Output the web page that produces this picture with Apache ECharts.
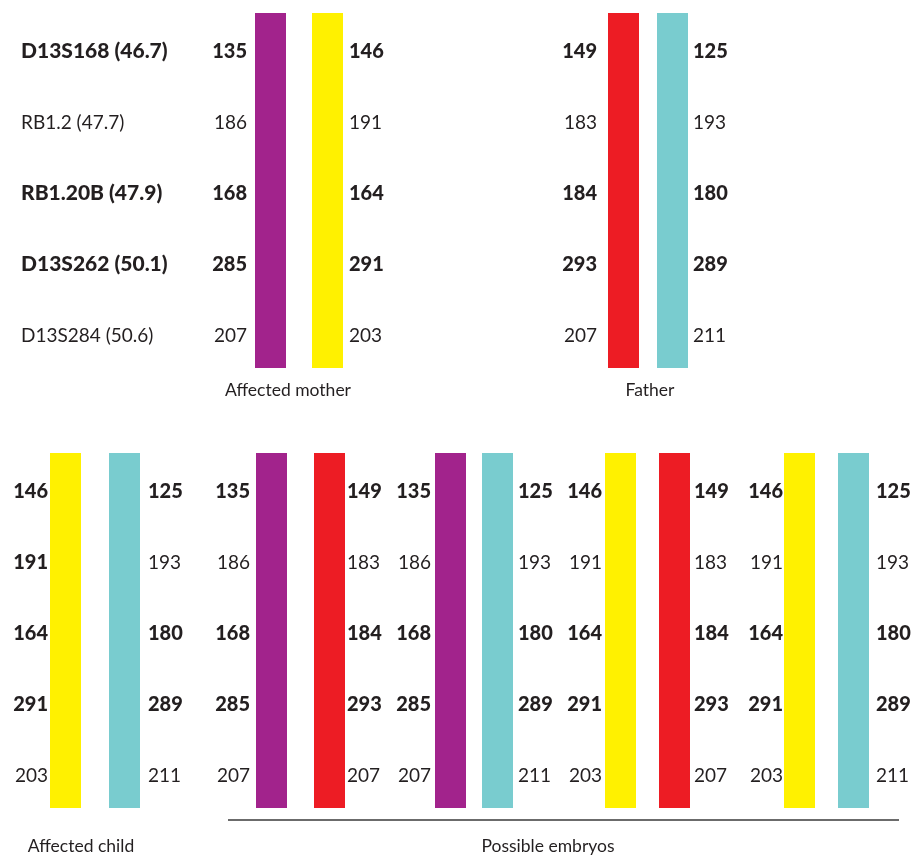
<!DOCTYPE html>
<html><head><meta charset="utf-8">
<script src="https://cdn.jsdelivr.net/npm/echarts@6/dist/echarts.min.js"></script>
<style>html,body{margin:0;padding:0;background:#fff}#c{width:912px;height:856px}</style>
</head><body><div id="c"></div>
<script>
// ---- data ----
const markers = ['D13S168 (46.7)', 'RB1.2 (47.7)', 'RB1.20B (47.9)', 'D13S262 (50.1)', 'D13S284 (50.6)'];
const informative = [true, false, true, true, false];
const maternalPurple = [135, 186, 168, 285, 207];
const maternalYellow = [146, 191, 164, 291, 203];
const paternalRed = [149, 183, 184, 293, 207];
const paternalTeal = [125, 193, 180, 289, 211];
const childYellowBold = [true, true, true, true, false];
const groupNames = ['Affected mother', 'Father', 'Affected child', 'Possible embryos'];
const mother = ['purple', 'yellow'];
const father = ['red', 'teal'];
const child = ['yellow', 'teal'];
const embryos = [['purple', 'red'], ['purple', 'teal'], ['yellow', 'red'], ['yellow', 'teal']];

// ---- styles / layout ----
const haps = {purple: maternalPurple, yellow: maternalYellow, red: paternalRed, teal: paternalTeal};
const colors = {purple: '#a2238c', yellow: '#fff100', red: '#ed1c24', teal: '#79cccf'};
const INK = '#231f20';
const FONT = 'Lato';
const BOLD_W = 900;
const REG_W = 400;
const BAR_W = 31;
const TEXT_DY = 3;
// per pair: [grid, leftBarX, rightBarX, leftLabelRightEdge, rightLabelLeftEdge]
const pairLayout = [
  [0, 255, 312, 247, 349],
  [0, 608, 657, 597, 693],
  [1, 50, 109, 48, 148],
  [1, 256, 314, 250, 347],
  [1, 435, 482, 431, 518],
  [1, 605, 659, 602, 694],
  [1, 784, 838, 783, 876]
];
const pairs = [mother, father, child].concat(embryos);
const boldFor = (p, side) => (p === 2 && side === 0) ? childYellowBold : informative;

const barData = [[], []];
const alleleData = [[], []];
pairs.forEach((pair, p) => {
  const [g, xl, xr, lxl, lxr] = pairLayout[p];
  [[pair[0], xl, lxl, 0], [pair[1], xr, lxr, 1]].forEach(([h, bx, lx, side]) => {
    barData[g].push({value: [bx, 0], itemStyle: {color: colors[h]}});
    const bold = boldFor(p, side);
    haps[h].forEach((a, r) => {
      alleleData[g].push([lx, r, a, side, bold[r] ? 1 : 0]);
    });
  });
});

function renderBar(params, api) {
  const p0 = api.coord([api.value(0), 0]);
  const band = api.size([0, 1])[1];
  const w = api.size([BAR_W, 0])[0];
  return {
    type: 'rect',
    shape: {x: p0[0], y: p0[1] - band / 2, width: w, height: band * markers.length},
    style: {fill: api.visual('color')}
  };
}
function renderAllele(params, api) {
  const pt = api.coord([api.value(0), api.value(1)]);
  const b = api.value(4);
  return {
    type: 'text', x: pt[0], y: pt[1] + TEXT_DY,
    style: {
      text: String(api.value(2)), fill: INK, fontFamily: FONT,
      fontSize: b ? 20 : 19,
      fontWeight: b ? BOLD_W : REG_W,
      align: api.value(3) ? 'left' : 'right', verticalAlign: 'middle'
    }
  };
}

const titleStyle = (t) => ({text: t, fill: INK, fontFamily: FONT, fontWeight: REG_W, fontSize: 17.5, align: 'center', verticalAlign: 'middle'});

const chart = echarts.init(document.getElementById('c'), null, {renderer: 'canvas'});
const option = {
  animation: false,
  backgroundColor: '#fff',
  grid: [
    {left: 0, right: 0, top: 13, height: 355},
    {left: 0, right: 0, top: 453, height: 355}
  ],
  xAxis: [
    {type: 'value', gridIndex: 0, min: 0, max: 912, show: false},
    {type: 'value', gridIndex: 1, min: 0, max: 912, show: false}
  ],
  yAxis: [
    {
      type: 'category', gridIndex: 0, data: markers, inverse: true,
      axisLine: {show: false}, axisTick: {show: false}, splitLine: {show: false},
      axisLabel: {
        inside: true, margin: 21, color: INK,
        formatter: (v, i) => informative[i] ? '{b|' + v + '}' : '{n|' + v + '}',
        rich: {
          b: {fontFamily: FONT, fontSize: 21, fontWeight: BOLD_W, color: INK, padding: [TEXT_DY * 2, 0, 0, 0]},
          n: {fontFamily: FONT, fontSize: 19, fontWeight: REG_W, color: INK, padding: [TEXT_DY * 2, 0, 0, 0]}
        }
      }
    },
    {type: 'category', gridIndex: 1, data: markers, inverse: true, show: false}
  ],
  series: [
    {type: 'custom', xAxisIndex: 0, yAxisIndex: 0, data: barData[0], renderItem: renderBar, z: 1},
    {type: 'custom', xAxisIndex: 1, yAxisIndex: 1, data: barData[1], renderItem: renderBar, z: 1},
    {type: 'custom', xAxisIndex: 0, yAxisIndex: 0, data: alleleData[0], renderItem: renderAllele, z: 2},
    {type: 'custom', xAxisIndex: 1, yAxisIndex: 1, data: alleleData[1], renderItem: renderAllele, z: 2}
  ],
  graphic: [
    {type: 'text', x: 288, y: 390, style: titleStyle(groupNames[0])},
    {type: 'text', x: 650, y: 390, style: titleStyle(groupNames[1])},
    {type: 'text', x: 81, y: 846, style: titleStyle(groupNames[2])},
    {type: 'text', x: 548, y: 846, style: titleStyle(groupNames[3])},
    {type: 'line', shape: {x1: 228, y1: 820, x2: 899, y2: 820}, style: {stroke: '#3a3a3a', lineWidth: 1.5}}
  ]
};
chart.setOption(option);
</script>
</body></html>
